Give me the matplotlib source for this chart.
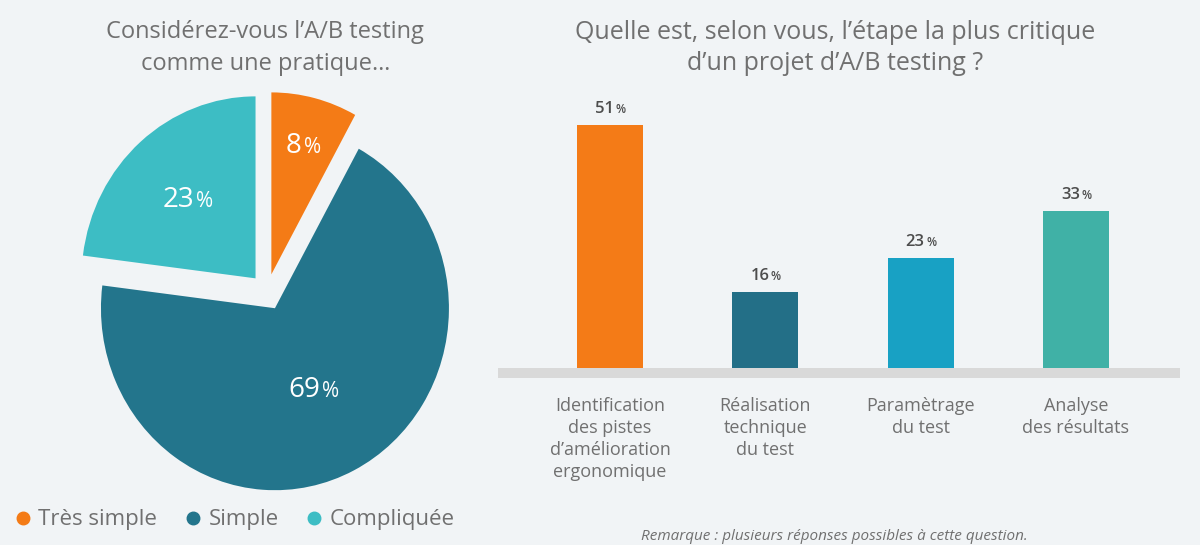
import math
import matplotlib
matplotlib.use('Agg')
import matplotlib.pyplot as plt
from matplotlib.lines import Line2D

plt.rcParams['font.family'] = ['Open Sans', 'DejaVu Sans']

# pie data
pie_labels = ['Très simple', 'Simple', 'Compliquée']
pie_values = [8, 69, 23]
pie_colors = ['#F47B16', '#23758C', '#3DBDC4']

# bar data
bar_labels = ['Identification\ndes pistes\nd\u2019amélioration\nergonomique',
              'Réalisation\ntechnique\ndu test',
              'Paramètrage\ndu test',
              'Analyse\ndes résultats']
bar_values = [51, 16, 23, 33]
bar_colors = ['#F47B17', '#236F87', '#18A1C4', '#40B1A6']

BG = '#F1F4F6'
GREY_TXT = '#707070'


def pct_text(ax, x, y, num, size, pct_size, color, weight='normal', gap=1.5):
    # number with a smaller % sign, roughly centred on (x, y)
    wn = len(num) * 0.57 * size
    wp = 0.8 * pct_size
    total = wn + gap + wp
    left = -total / 2
    ax.annotate(num, (x, y), xytext=(left + wn, 0), textcoords='offset points',
                ha='right', va='baseline', fontsize=size, color=color, fontweight=weight)
    ax.annotate('%', (x, y), xytext=(left + wn + gap, 0), textcoords='offset points',
                ha='left', va='baseline', fontsize=pct_size, color=color, fontweight=weight)


fig = plt.figure(figsize=(12, 5.45), dpi=100)
fig.patch.set_facecolor(BG)

# ---- pie ----
ax1 = fig.add_axes([0.05, 0.0642, 0.35, 0.789])
ax1.set_facecolor(BG)
wedges, _ = ax1.pie(pie_values, colors=pie_colors, startangle=90, counterclock=False,
                    explode=[0.1, 0.1, 0.1], radius=1)
ax1.set_aspect('auto')
ax1.set_xlim(-1.19, 1.224)
ax1.set_ylim(-1.198, 1.165)
ax1.axis('off')

label_frac = [0.74, 0.49, 0.59]
for w, v, f in zip(wedges, pie_values, label_frac):
    th = math.radians((w.theta1 + w.theta2) / 2)
    cx, cy = w.center
    px = cx + f * w.r * math.cos(th)
    py = cy + f * w.r * math.sin(th) - 0.05
    pct_text(ax1, px, py, str(v), 20, 15, 'white')

fig.text(0.221, 1 - 48 / 545, 'Considérez-vous l\u2019A/B testing\ncomme une pratique\u2026',
         ha='center', va='center', fontsize=17, color=GREY_TXT, linespacing=1.4)

# legend
handles = [Line2D([], [], marker='o', linestyle='none', markersize=9,
                  markerfacecolor=c, markeredgecolor=c) for c in pie_colors]
fig.legend(handles, pie_labels, ncol=3, loc='center left',
           bbox_to_anchor=(-0.005, 1 - 520 / 545), frameon=False, fontsize=16,
           handlelength=0.8, handletextpad=0.3, columnspacing=1.2, labelcolor=GREY_TXT)

# ---- bars ----
ax2 = fig.add_axes([0.415, 1 - 378 / 545, 0.5683, 298 / 545])
ax2.set_facecolor(BG)
x = list(range(len(bar_values)))
bars = ax2.bar(x, bar_values, width=0.425, color=bar_colors, zorder=3)
ax2.axhspan(-2.1, 0, color='#D9D9D9', zorder=2, lw=0)
ax2.set_xlim(-0.721, 3.67)
ax2.set_ylim(-2.1, 60.38)
for s in ax2.spines.values():
    s.set_visible(False)
ax2.set_yticks([])
ax2.set_xticks(x)
ax2.set_xticklabels(bar_labels, fontsize=13, color=GREY_TXT, linespacing=1.28, va='top')
ax2.tick_params(axis='x', length=0, pad=14)
for b, v in zip(bars, bar_values):
    pct_text(ax2, b.get_x() + b.get_width() / 2, v + 2.5, str(v), 12, 8.5, '#4D4D4D',
             weight='semibold', gap=1)

fig.text(0.696, 1 - 48 / 545,
         'Quelle est, selon vous, l\u2019étape la plus critique\nd\u2019un projet d\u2019A/B testing ?',
         ha='center', va='center', fontsize=18, color=GREY_TXT, linespacing=1.35)

fig.text(0.695, 1 - 536 / 545, 'Remarque : plusieurs réponses possibles à cette question.',
         ha='center', va='center', fontsize=11, color=GREY_TXT, style='italic')

fig.savefig('out.png', dpi=100, facecolor=BG)
